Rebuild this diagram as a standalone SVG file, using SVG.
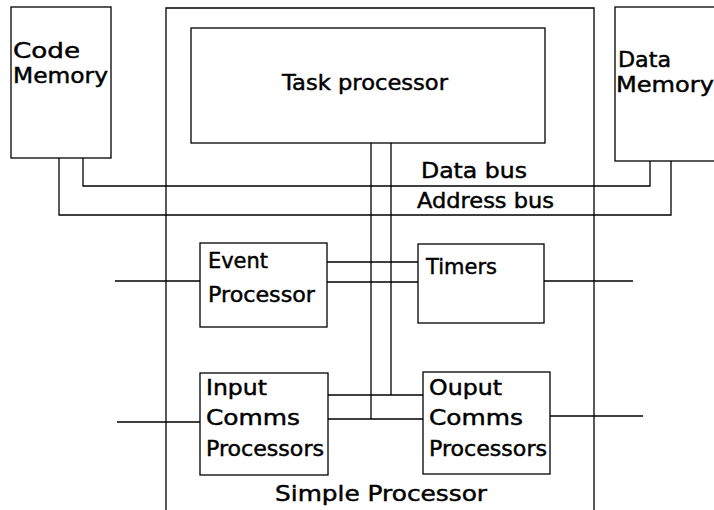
<svg xmlns="http://www.w3.org/2000/svg" width="714" height="510" viewBox="0 0 714 510">
<style>
  .box { fill: none; stroke: #000; stroke-width: 1.3; }
  .ln { fill: none; stroke: #000; stroke-width: 1.3; }
  text { font-family: "DejaVu Sans", "Liberation Sans", sans-serif; font-size: 21px; fill: #000; stroke: #000; stroke-width: 0.45; }
</style>
<rect width="714" height="510" fill="#fff"/>
<g id="simple-processor">
  <path class="box" d="M166,515 L166,8 L594,8 L594,515"/>
  <text x="275" y="501" textLength="212" lengthAdjust="spacingAndGlyphs">Simple Processor</text>
</g>
<g id="code-memory">
  <rect class="box" x="11" y="7" width="100" height="151"/>
  <text x="13" y="58" textLength="67" lengthAdjust="spacingAndGlyphs">Code</text>
  <text x="13" y="83" textLength="95" lengthAdjust="spacingAndGlyphs">Memory</text>
</g>
<g id="data-memory">
  <rect class="box" x="615" y="7" width="110" height="154"/>
  <text x="618" y="67" textLength="53" lengthAdjust="spacingAndGlyphs">Data</text>
  <text x="616" y="92" textLength="98" lengthAdjust="spacingAndGlyphs">Memory</text>
</g>
<g id="task-processor">
  <rect class="box" x="191" y="28" width="354" height="115"/>
  <text x="282" y="90" textLength="166" lengthAdjust="spacingAndGlyphs">Task processor</text>
</g>
<g id="event-processor">
  <rect class="box" x="200" y="243" width="127" height="84"/>
  <text x="208" y="268" textLength="60" lengthAdjust="spacingAndGlyphs">Event</text>
  <text x="208" y="302" textLength="107" lengthAdjust="spacingAndGlyphs">Processor</text>
</g>
<g id="timers">
  <rect class="box" x="418" y="244" width="126" height="79"/>
  <text x="426" y="274" textLength="71" lengthAdjust="spacingAndGlyphs">Timers</text>
</g>
<g id="input-comms">
  <rect class="box" x="200" y="373" width="128" height="102"/>
  <text x="206" y="395" textLength="61" lengthAdjust="spacingAndGlyphs">Input</text>
  <text x="206" y="425" textLength="94" lengthAdjust="spacingAndGlyphs">Comms</text>
  <text x="206" y="456" textLength="118" lengthAdjust="spacingAndGlyphs">Processors</text>
</g>
<g id="output-comms">
  <rect class="box" x="423" y="372" width="127" height="102"/>
  <text x="429" y="395" textLength="73" lengthAdjust="spacingAndGlyphs">Ouput</text>
  <text x="429" y="425" textLength="94" lengthAdjust="spacingAndGlyphs">Comms</text>
  <text x="429" y="456" textLength="118" lengthAdjust="spacingAndGlyphs">Processors</text>
</g>
<g id="connectors">
  <!-- data bus -->
  <path class="ln" d="M83,158 L83,186 L650,186 L650,161"/>
  <!-- address bus -->
  <path class="ln" d="M59,158 L59,215 L671,215 L671,161"/>
  <text x="421" y="178" textLength="106" lengthAdjust="spacingAndGlyphs">Data bus</text>
  <text x="417" y="208" textLength="137" lengthAdjust="spacingAndGlyphs">Address bus</text>
  <!-- internal bus from task processor -->
  <path class="ln" d="M371,143 L371,419"/>
  <path class="ln" d="M391,143 L391,395"/>
  <!-- event processor to timers -->
  <path class="ln" d="M327,262 L418,262"/>
  <path class="ln" d="M327,282 L418,282"/>
  <!-- input comms to output comms -->
  <path class="ln" d="M328,395 L423,395"/>
  <path class="ln" d="M328,419 L423,419"/>
  <!-- external lines -->
  <path class="ln" d="M115,281 L200,281"/>
  <path class="ln" d="M117,422 L200,422"/>
  <path class="ln" d="M544,281 L633,281"/>
  <path class="ln" d="M550,416 L643,416"/>
</g>
</svg>
